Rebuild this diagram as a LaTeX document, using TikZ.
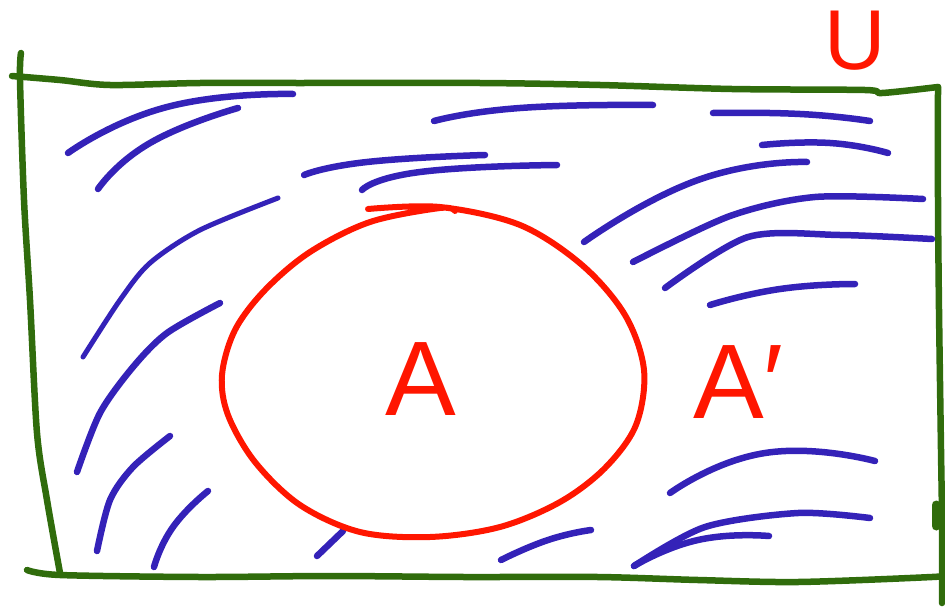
\documentclass[tikz,border=0pt]{standalone}
\usepackage{fontspec}
\setmainfont{Liberation Sans}
\definecolor{framegreen}{RGB}{48,108,12}
\definecolor{hatchblue}{RGB}{52,34,184}
\definecolor{setred}{RGB}{255,22,0}
\begin{document}
\begin{tikzpicture}[x=1pt,y=-1pt,
  framestroke/.style={draw=framegreen,line width=6.5pt,line cap=round,line join=round},
  hatchstroke/.style={draw=hatchblue,line width=6.5pt,line cap=round},
  setstroke/.style={draw=setred,line width=6pt,line cap=round,line join=round},
  letter/.style={text=setred,inner sep=0pt}]
\useasboundingbox (0,0) rectangle (945,613);
% frame (universal set)
\draw[framestroke] plot[smooth] coordinates {(21,53) (20,80) (24,200) (30,300) (37,433) (47,500) (60,573)};
\draw[framestroke] plot[smooth] coordinates {(12,76) (60,80) (110,85) (200,83) (300,83) (480,83) (600,85) (732,89) (865,90) (882,93) (938,87)};
\draw[framestroke] plot[smooth] coordinates {(938,87) (938,200) (939,310) (941,450) (942,520) (942,603)};
\draw[framestroke,line width=9pt] (936,505) -- (936,526);
\draw[framestroke] plot[smooth] coordinates {(27,570) (60,575) (200,577) (330,576) (465,577) (598,577) (698,580) (798,582) (932,577) (945,575)};
% hatching (complement)
\draw[hatchstroke] plot[smooth,tension=0.9] coordinates {(68,153) (167,107) (293,94)};
\draw[hatchstroke] plot[smooth,tension=0.9] coordinates {(98,189) (150,143) (238,108)};
\draw[hatchstroke] plot[smooth,tension=0.9] coordinates {(304,175) (367,162) (485,155)};
\draw[hatchstroke] plot[smooth,tension=0.9] coordinates {(362,190) (420,172) (557,165)};
\draw[hatchstroke] plot[smooth,tension=0.9] coordinates {(434,121) (520,108) (653,105)};
\draw[hatchstroke] plot[smooth,tension=0.9] coordinates {(713,113) (800,114) (870,121)};
\draw[hatchstroke] plot[smooth,tension=0.9] coordinates {(762,145) (830,143) (888,153)};
\draw[hatchstroke] plot[smooth,tension=0.9] coordinates {(584,242) (698,180) (807,162)};
\draw[hatchstroke] plot[smooth] coordinates {(633,262) (730,216) (815,197) (923,199)};
\draw[hatchstroke] plot[smooth] coordinates {(665,288) (748,237) (840,235) (932,239)};
\draw[hatchstroke] plot[smooth,tension=0.9] coordinates {(710,305) (780,289) (855,284)};
\draw[hatchstroke,line width=5pt] plot[smooth] coordinates {(278,198) (200,230) (150,263) (120,300) (83,357)};
\draw[hatchstroke] plot[smooth] coordinates {(220,303) (167,333) (133,367) (100,413) (77,472)};
\draw[hatchstroke] plot[smooth] coordinates {(170,436) (133,467) (110,500) (97,551)};
\draw[hatchstroke] plot[smooth,tension=0.9] coordinates {(208,491) (173,527) (154,567)};
\draw[hatchstroke] (317,556) -- (343,531);
\draw[hatchstroke] plot[smooth,tension=0.9] coordinates {(501,560) (548,540) (591,530)};
\draw[hatchstroke] plot[smooth,tension=0.9] coordinates {(634,566) (698,540) (769,536)};
\draw[hatchstroke] plot[smooth] coordinates {(634,566) (705,527) (798,513) (870,518)};
\draw[hatchstroke] plot[smooth,tension=0.9] coordinates {(670,493) (765,453) (875,461)};
% set A
\draw[setstroke] plot[smooth,tension=0.55] coordinates {(368,209) (440,207) (520,225) (582,265) (625,315) (644,370) (636,425) (605,468) (560,502) (500,527) (430,537) (360,532) (300,505) (255,462) (228,415) (222,375) (235,330) (265,290) (310,252) (370,222) (440,208) (455,211)};
% labels
\node[letter,anchor=base,font=\fontsize{106}{106}\selectfont] (setA) at (421,415) {A};
\node[letter,anchor=base west,font=\fontsize{106}{106}\selectfont] (complA) at (693,418) {A′};
\node[letter,anchor=base,font=\fontsize{85}{85}\selectfont] (univU) at (855,69) {U};
\end{tikzpicture}
\end{document}
